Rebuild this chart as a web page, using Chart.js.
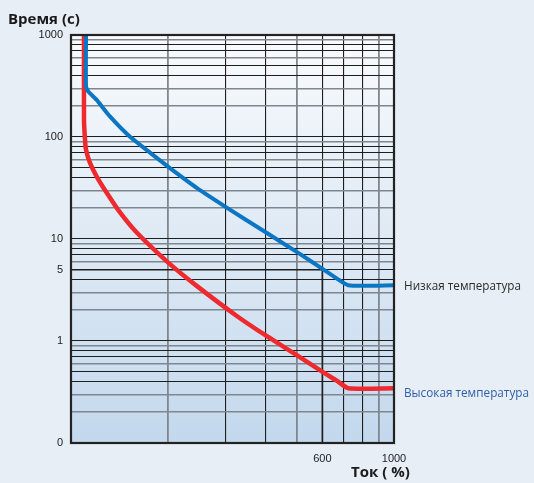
<!DOCTYPE html>
<html>
<head>
<meta charset="utf-8">
<script src="https://cdn.jsdelivr.net/npm/chart.js@4/dist/chart.umd.min.js"></script>
<style>
  body { margin: 0; background: #e7eef6; }
  #wrap { width: 534px; height: 483px; }
</style>
</head>
<body>
<div id="wrap"><canvas id="chart" width="534" height="483"></canvas></div>
<script>
// low temperature curve (blue)
var lowCurrent = [111.3, 111.3, 113.1, 120.1, 132, 152, 176, 202, 245, 300, 403, 504, 604, 722, 1000];
var lowTime    = [1000, 312, 279, 231, 159, 101, 69.8, 49.8, 31.7, 20.8, 11.5, 7.35, 5.04, 3.52, 3.52];

// high temperature curve (red)
var highCurrent = [109.7, 109.7, 110.5, 111.3, 114.5, 120, 129, 142, 160, 200, 245, 326, 403, 504, 604, 665, 722, 1000];
var highTime    = [1000, 150, 94, 75, 55.7, 41.2, 28.4, 18.1, 11.5, 5.87, 3.47, 1.76, 1.12, 0.716, 0.493, 0.408, 0.344, 0.344];

var seriesNames = ['Низкая температура', 'Высокая температура'];

var yTickValues = [1000, 100, 10, 5, 1, 0.1];
var yTickText   = ['1000', '100', '10', '5', '1', '0'];
var xTickValues = [600, 1000];
var xTickText   = ['600', '1000'];

function toPoints(xs, ys) {
    var pts = [];
    for (var i = 0; i < xs.length; i++) pts.push({x: xs[i], y: ys[i]});
    return pts;
}

function mantissa(v) {
    var p = Math.pow(10, Math.floor(Math.log10(v) + 1e-9));
    return Math.round(v / p);
}

function findLabel(v, vals, texts) {
    for (var i = 0; i < vals.length; i++) {
        if (Math.abs(vals[i] - v) < vals[i] * 1e-6) return texts[i];
    }
    return '';
}

var yGrid = [];
[0.1, 1, 10, 100].forEach(function(d) {
    for (var m = 1; m <= 9; m++) yGrid.push(m * d);
});
yGrid.push(1000);
var xGrid = [];
for (var k = 1; k <= 10; k++) xGrid.push(k * 100);

// squeeze a label into a given width (the original uses a condensed face)
function narrowText(c, text, x, y, width) {
    var w = c.measureText(text).width;
    var s = Math.min(1, width / w);
    c.save();
    c.translate(x, y);
    c.scale(s, 1);
    c.fillText(text, 0, 0);
    c.restore();
}

var decor = {
    id: 'decor',
    beforeDraw: function(chart) {
        var c = chart.ctx, a = chart.chartArea;
        c.save();
        c.fillStyle = '#e7eef6';
        c.fillRect(0, 0, chart.width, chart.height);
        var g = c.createLinearGradient(0, a.top, 0, a.bottom);
        g.addColorStop(0, '#f9fbfd');
        g.addColorStop(1, '#c3d8ed');
        c.fillStyle = g;
        c.fillRect(a.left, a.top, a.right - a.left, a.bottom - a.top);
        c.restore();
    },
    beforeDatasetsDraw: function(chart) {
        var c = chart.ctx, a = chart.chartArea;
        var x600 = chart.scales.x.getPixelForValue(600);
        var y5 = chart.scales.y.getPixelForValue(5);
        c.save();
        c.strokeStyle = '#1e1e1e';
        c.lineWidth = 1.6;
        c.beginPath();
        c.moveTo(a.left, y5);
        c.lineTo(x600, y5);
        c.lineTo(x600, a.bottom);
        c.stroke();
        c.restore();
    },
    afterDatasetsDraw: function(chart) {
        var c = chart.ctx, a = chart.chartArea;
        c.save();
        c.strokeStyle = '#222';
        c.lineWidth = 2.2;
        c.strokeRect(a.left, a.top, a.right - a.left, a.bottom - a.top);
        c.restore();
    },
    afterDraw: function(chart) {
        var c = chart.ctx;
        var ys = chart.scales.y;
        c.save();
        c.fillStyle = '#1a1a1a';
        c.font = 'bold 15px "Open Sans"';
        c.textBaseline = 'alphabetic';
        c.fillText('Время (с)', 8, 24);
        c.fillText('Ток ( %)', 351, 477);
        c.font = '13px "Open Sans"';
        c.textBaseline = 'middle';
        c.fillStyle = '#2b2b2b';
        narrowText(c, seriesNames[0], 404, ys.getPixelForValue(lowTime[lowTime.length - 1]) + 1, 117);
        c.fillStyle = '#2f5ea8';
        narrowText(c, seriesNames[1], 404, ys.getPixelForValue(highTime[highTime.length - 1]) + 5, 125);
        c.restore();
    }
};

new Chart(document.getElementById('chart'), {
    type: 'line',
    data: {
        datasets: [{
            label: seriesNames[0],
            data: toPoints(lowCurrent, lowTime),
            borderColor: '#0b76c4',
            borderWidth: 4,
            pointRadius: 0,
            tension: 0.15,
            fill: false
        }, {
            label: seriesNames[1],
            data: toPoints(highCurrent, highTime),
            borderColor: '#ee2a2f',
            borderWidth: 4.5,
            pointRadius: 0,
            tension: 0.2,
            fill: false
        }]
    },
    options: {
        responsive: false,
        animation: false,
        layout: { padding: { top: 35, right: 140, left: 0, bottom: 0 } },
        plugins: {
            legend: { display: false },
            tooltip: { enabled: false }
        },
        scales: {
            x: {
                type: 'logarithmic',
                min: 100,
                max: 1000,
                afterBuildTicks: function(axis) {
                    axis.ticks = xGrid.map(function(v) { return {value: v}; });
                },
                afterFit: function(axis) { axis.height = 40; },
                border: { display: false },
                grid: {
                    drawTicks: false,
                    color: function(ctx) {
                        var m = mantissa(ctx.tick.value);
                        return (m === 2 || m === 5 || m === 9) ? '#80868d' : '#1e1e1e';
                    },
                    lineWidth: function(ctx) {
                        var m = mantissa(ctx.tick.value);
                        return (m === 2 || m === 5 || m === 9) ? 1.8 : 1.1;
                    }
                },
                ticks: {
                    autoSkip: false,
                    maxRotation: 0,
                    padding: 9,
                    color: '#222',
                    font: { family: 'Liberation Sans', size: 11 },
                    callback: function(v) { return findLabel(v, xTickValues, xTickText); }
                }
            },
            y: {
                type: 'logarithmic',
                min: 0.1,
                max: 1000,
                afterBuildTicks: function(axis) {
                    axis.ticks = yGrid.map(function(v) { return {value: v}; });
                },
                afterFit: function(axis) { axis.width = 71; },
                border: { display: false },
                grid: {
                    drawTicks: false,
                    color: function(ctx) {
                        var m = mantissa(ctx.tick.value);
                        return (m === 2 || m === 3 || m === 6 || m === 9) ? '#80868d' : '#1e1e1e';
                    },
                    lineWidth: function(ctx) {
                        var m = mantissa(ctx.tick.value);
                        return (m === 2 || m === 3 || m === 6 || m === 9) ? 1.6 : 1.1;
                    }
                },
                ticks: {
                    autoSkip: false,
                    padding: 8,
                    color: '#222',
                    font: { family: 'Liberation Sans', size: 11 },
                    callback: function(v) { return findLabel(v, yTickValues, yTickText); }
                }
            }
        }
    },
    plugins: [decor]
});
</script>
</body>
</html>
